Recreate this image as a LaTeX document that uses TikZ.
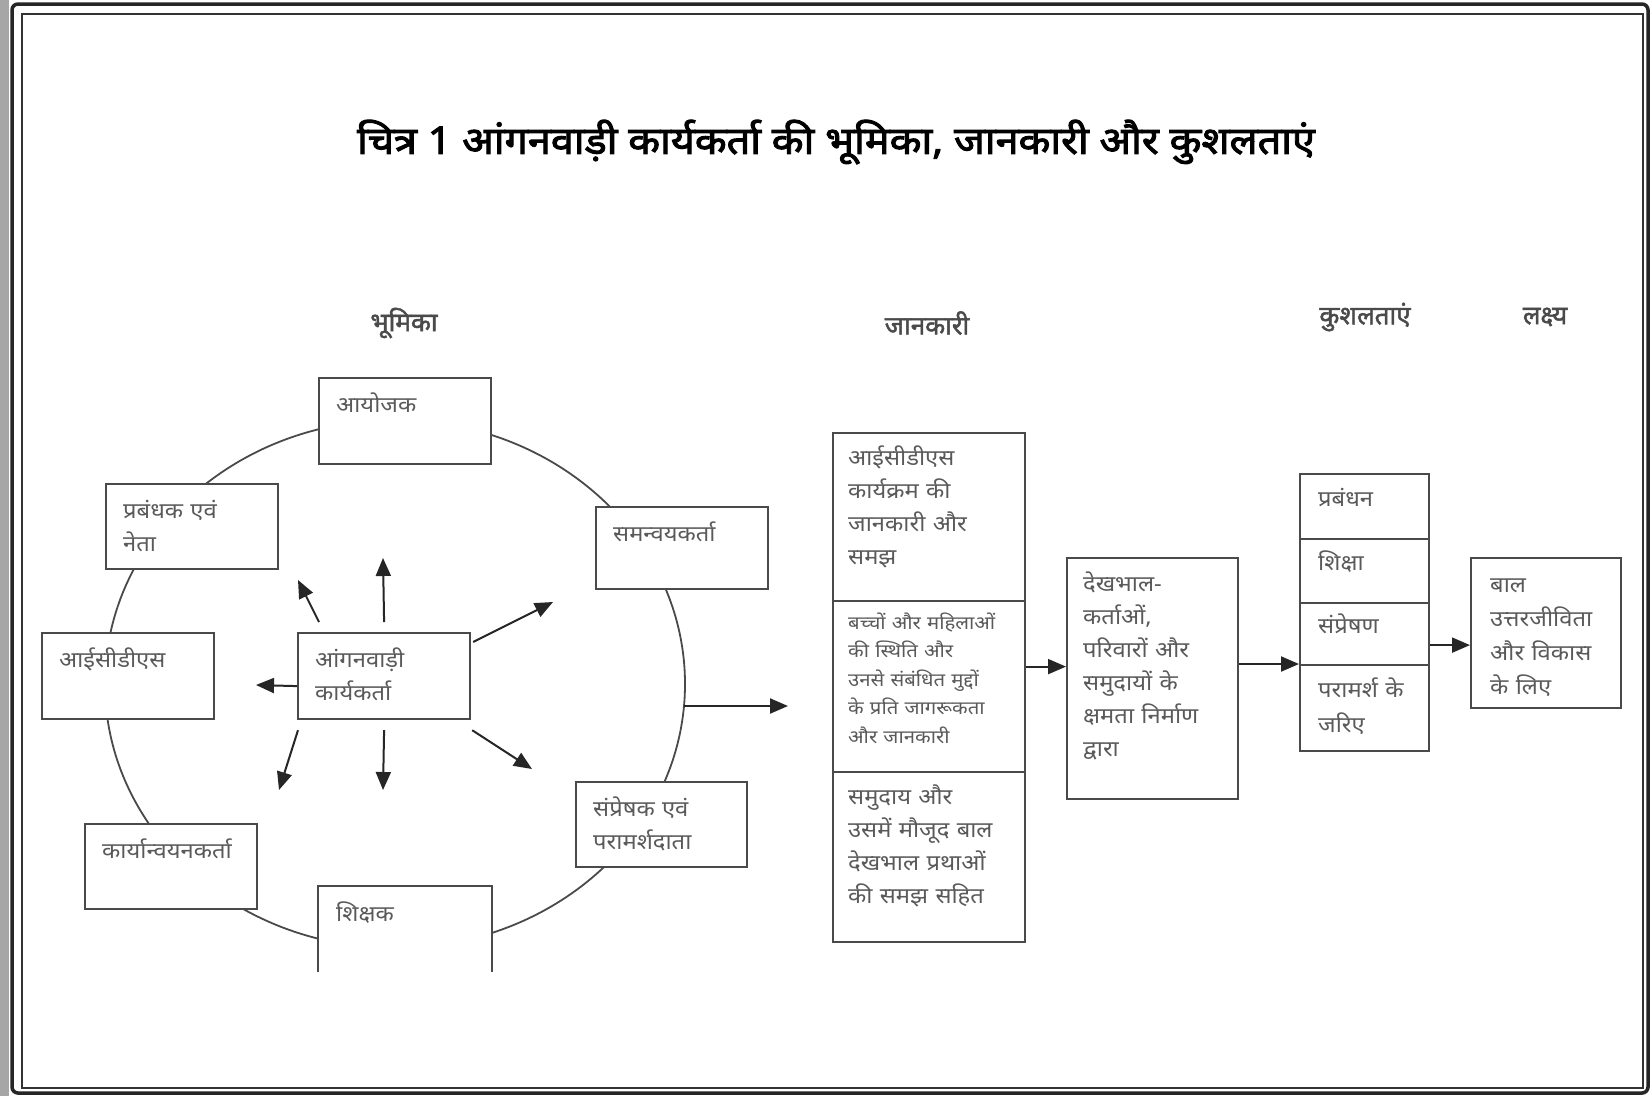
\documentclass[tikz,border=0pt]{standalone}
\usepackage{fontspec}
\newfontfamily\dev[Script=Devanagari,FakeStretch=1.08]{Noto Sans}
\newfontfamily\devs[Script=Devanagari,FakeStretch=1.1]{Noto Sans}
\newfontfamily\devb[Script=Devanagari,FakeBold=2.5,FakeStretch=1.09]{Noto Sans}
\newfontfamily\devh[Script=Devanagari,FakeBold=1.8]{Noto Sans}
\usetikzlibrary{arrows.meta}
\definecolor{boxline}{HTML}{4A4A4A}
\definecolor{txtgray}{HTML}{5A5A5A}
\definecolor{hdrgray}{HTML}{4A4A4A}
\tikzset{
  rbox/.style={draw=boxline, line width=2.2pt, fill=white, inner sep=0pt, anchor=north west},
  txt/.style={anchor=base west, inner sep=0pt, text width=175pt, align=left, text=txtgray, font=\dev\fontsize{22}{33}\selectfont},
  smalltxt/.style={font=\devs\fontsize{18.5}{28.5}\selectfont},
  hdr/.style={font=\devh\fontsize{26}{30}\selectfont, text=hdrgray, inner sep=0pt},
  arr/.style={-{Triangle[length=18pt,width=15pt]}, line width=2pt, black!85},
  ring/.style={draw=boxline, line width=1.8pt},
}
\begin{document}
\begin{tikzpicture}[x=1pt,y=-1pt]
\useasboundingbox (0,0) rectangle (1652,1096);
\fill[white] (0,0) rectangle (1652,1096);
% frame
\fill[black!35] (0,0) rectangle (9,1096);
\draw[line width=3.5pt, black!85, rounded corners=6pt] (12,4) rectangle (1648,1093);
\draw[line width=1.8pt, black!80] (22,14) rectangle (1643,1088);

% title
\node[inner sep=0pt, font=\devb\fontsize{38}{42}\selectfont] (title) at (836,142) {चित्र 1 आंगनवाड़ी कार्यकर्ता की भूमिका, जानकारी और कुशलताएं};

% headers
\node[hdr] (h1) at (404,323) {भूमिका};
\node[hdr] (h2) at (927,323) {जानकारी};
\node[hdr] (h3) at (1365,317) {कुशलताएं};
\node[hdr] (h4) at (1545,317) {लक्ष्य};

% ring
\coordinate (cc) at (395,684);
\draw[ring] (cc) ellipse [x radius=290pt, y radius=264pt];

% role boxes
\node[rbox, minimum width=172pt, minimum height=86pt] (ayojak) at (318,377) {};
\node[txt] (ayojak-t) at ([shift={(18,35)}]ayojak.north west) {आयोजक};

\node[rbox, minimum width=172pt, minimum height=85pt] (prab) at (105,483) {};
\node[txt] (prab-t) at ([shift={(18,35)}]prab.north west) {प्रबंधक एवं\\नेता};

\node[rbox, minimum width=172pt, minimum height=82pt] (saman) at (595,506) {};
\node[txt] (saman-t) at ([shift={(18,35)}]saman.north west) {समन्वयकर्ता};

\node[rbox, minimum width=172pt, minimum height=86pt] (icds) at (41,632) {};
\node[txt] (icds-t) at ([shift={(18,35)}]icds.north west) {आईसीडीएस};

\node[rbox, minimum width=172pt, minimum height=86pt] (aw) at (297,632) {};
\node[txt] (aw-t) at ([shift={(18,35)}]aw.north west) {आंगनवाड़ी\\कार्यकर्ता};

\node[rbox, minimum width=171pt, minimum height=85pt] (samp) at (575,781) {};
\node[txt] (samp-t) at ([shift={(18,35)}]samp.north west) {संप्रेषक एवं\\परामर्शदाता};

\node[rbox, minimum width=172pt, minimum height=85pt] (karya) at (84,823) {};
\node[txt] (karya-t) at ([shift={(18,35)}]karya.north west) {कार्यान्वयनकर्ता};

\node[rbox, draw=none, minimum width=172pt, minimum height=84pt] (shik) at (318,886) {};
\draw[draw=boxline, line width=2.2pt] (shik.south west) -- (shik.north west) -- (shik.north east) -- (shik.south east);
\node[txt] (shik-t) at ([shift={(18,35)}]shik.north west) {शिक्षक};

% arrows from aanganwadi
\coordinate (t-u) at (383,558);
\coordinate (t-ul) at (298,580);
\coordinate (t-ur) at (553,602);
\coordinate (t-l) at (256,685);
\coordinate (t-dl) at (279,790);
\coordinate (t-d) at (383,790);
\coordinate (t-dr) at (532,769);
\draw[arr] ([shift={(0,-10)}]aw.north) -- (t-u);
\draw[arr] ([shift={(22,-10)}]aw.north west) -- (t-ul);
\draw[arr] ([shift={(2,10)}]aw.north east) -- (t-ur);
\draw[arr] ([shift={(0,10)}]aw.west) -- (t-l);
\draw[arr] ([shift={(1,10)}]aw.south west) -- (t-dl);
\draw[arr] ([shift={(0,10)}]aw.south) -- (t-d);
\draw[arr] ([shift={(1,10)}]aw.south east) -- (t-dr);

% ring output arrow
\coordinate (ce) at (684,706);
\coordinate (ctip) at (788,706);
\draw[arr] (ce) -- (ctip);

% knowledge stack
\node[rbox, minimum width=192pt, minimum height=168pt] (jk1) at (832,432) {};
\node[txt] (jk1-t) at ([shift={(16,33)}]jk1.north west) {आईसीडीएस\\कार्यक्रम की\\जानकारी और\\समझ};
\node[rbox, minimum width=192pt, minimum height=171pt] (jk2) at (832,600) {};
\node[txt, smalltxt] (jk2-t) at ([shift={(16,29)}]jk2.north west) {बच्चों और महिलाओं\\की स्थिति और\\उनसे संबंधित मुद्दों\\के प्रति जागरूकता\\और जानकारी};
\node[rbox, minimum width=192pt, minimum height=170pt] (jk3) at (832,771) {};
\node[txt] (jk3-t) at ([shift={(16,33)}]jk3.north west) {समुदाय और\\उसमें मौजूद बाल\\देखभाल प्रथाओं\\की समझ सहित};

% capacity box
\node[rbox, minimum width=171pt, minimum height=241pt] (dekh) at (1066,557) {};
\node[txt] (dekh-t) at ([shift={(17,34)}]dekh.north west) {देखभाल-\\कर्ताओं,\\परिवारों और\\समुदायों के\\क्षमता निर्माण\\द्वारा};

% skills stack
\node[rbox, minimum width=129pt, minimum height=65pt] (sk1) at (1299,473) {};
\node[txt] (sk1-t) at ([shift={(19,33)}]sk1.north west) {प्रबंधन};
\node[rbox, minimum width=129pt, minimum height=64pt] (sk2) at (1299,538) {};
\node[txt] (sk2-t) at ([shift={(19,32)}]sk2.north west) {शिक्षा};
\node[rbox, minimum width=129pt, minimum height=62pt] (sk3) at (1299,602) {};
\node[txt] (sk3-t) at ([shift={(19,31)}]sk3.north west) {संप्रेषण};
\node[rbox, minimum width=129pt, minimum height=86pt] (sk4) at (1299,664) {};
\node[txt, font=\dev\fontsize{22}{35}\selectfont] (sk4-t) at ([shift={(19,33)}]sk4.north west) {परामर्श के\\जरिए};

% goal box
\node[rbox, minimum width=150pt, minimum height=150pt] (goal) at (1470,557) {};
\node[txt, font=\dev\fontsize{22}{34}\selectfont] (goal-t) at ([shift={(20,35)}]goal.north west) {बाल\\उत्तरजीविता\\और विकास\\के लिए};

% flow arrows
\draw[arr] ([yshift=20pt]jk2.east) -- ([yshift=20pt]jk2.east -| dekh.west);
\draw[arr] (dekh.east |- sk4.north) -- (sk4.north west);
\draw[arr] ([yshift=-11pt]sk3.east) -- ([yshift=-11pt]sk3.east -| goal.west);
\end{tikzpicture}
\end{document}
